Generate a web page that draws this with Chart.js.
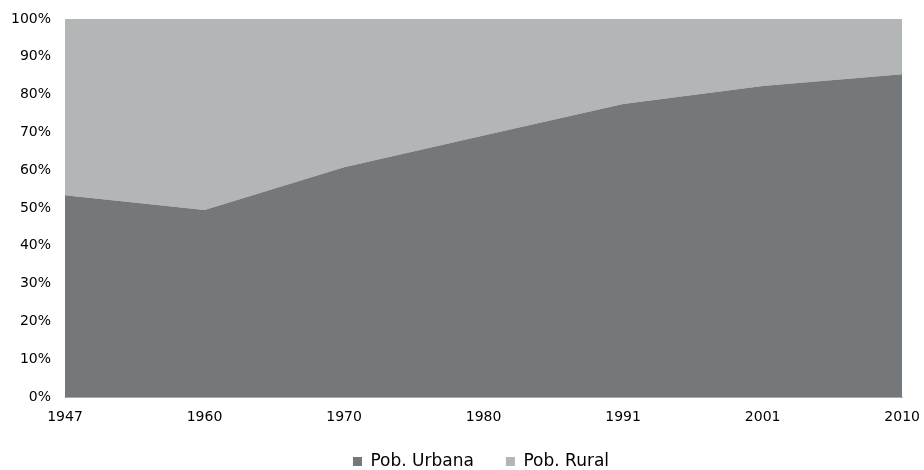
<!DOCTYPE html>
<html>
<head>
<meta charset="utf-8">
<script src="https://cdn.jsdelivr.net/npm/chart.js@4"></script>
<style>
  html, body { margin: 0; padding: 0; background: #fff; }
  #wrap { width: 924px; height: 470px; }
</style>
</head>
<body>
<div id="wrap"><canvas id="g-chart" width="924" height="470"></canvas></div>
<script>
const years = ['1947', '1960', '1970', '1980', '1991', '2001', '2010'];
const urbana = [53.4, 49.5, 60.8, 69.2, 77.5, 82.3, 85.4];
const rural = [46.6, 50.5, 39.2, 30.8, 22.5, 17.7, 14.6];
const yTicks = [0, 10, 20, 30, 40, 50, 60, 70, 80, 90, 100];

const font = { family: '"DejaVu Sans", sans-serif', size: 14 };
const ctx = document.getElementById('g-chart').getContext('2d');

// the original legend sits a little right of centre
const legendShift = {
  id: 'legendShift',
  afterLayout: chart => {
    chart.legend.left += 27;
    chart.legend.right += 27;
  }
};

new Chart(ctx, {
  type: 'line',
  data: {
    labels: years,
    datasets: [
      {
        label: 'Pob. Urbana',
        data: urbana,
        backgroundColor: '#75787b',
        borderColor: '#75787b',
        borderWidth: 0,
        pointRadius: 0,
        fill: 'origin',
      },
      {
        label: 'Pob. Rural',
        data: rural,
        backgroundColor: '#b3b6b7',
        borderColor: '#b3b6b7',
        borderWidth: 0,
        pointRadius: 0,
        fill: '-1',
      }
    ]
  },
  plugins: [legendShift],
  options: {
    responsive: false,
    animation: false,
    layout: { padding: { left: 0, right: 16, top: 19, bottom: -10 } },
    plugins: {
      tooltip: { enabled: false },
      legend: {
        position: 'bottom',
        labels: {
          color: '#000',
          font: { family: font.family, size: 17 },
          boxWidth: 9,
          boxHeight: 9,
          padding: 32,
        }
      }
    },
    scales: {
      x: {
        type: 'category',
        offset: false,
        grid: { display: false },
        border: { display: true, color: '#aaa' },
        ticks: { color: '#000', font: font, maxRotation: 0, padding: 4 },
        afterFit: s => { s.height = 24; },
      },
      y: {
        stacked: true,
        min: 0,
        max: 100,
        grid: { display: false },
        border: { display: true, color: '#888' },
        afterBuildTicks: s => { s.ticks = yTicks.map(v => ({ value: v })); },
        afterFit: s => { s.width = 65; },
        ticks: { color: '#000', font: font, padding: 6, callback: v => v + '%' },
      }
    }
  }
});
</script>
</body>
</html>
